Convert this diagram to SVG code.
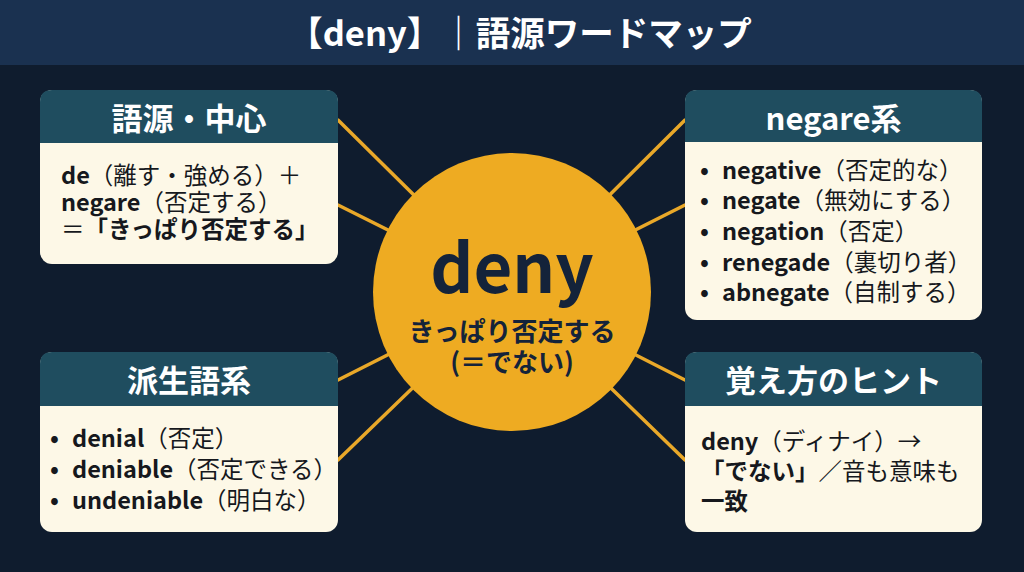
<svg xmlns="http://www.w3.org/2000/svg" width="1024" height="572" viewBox="0 0 1024 572">
<style>
text{font-family:"Noto Sans CJK JP","Noto Sans",sans-serif;}
.hdr{fill:#1f4d5f;}
.body{fill:#fdf8e7;}
.ht{fill:#ffffff;font-size:31px;font-weight:700;text-anchor:middle;}
.bt{fill:#16181d;font-size:23.5px;font-weight:400;}
.b{font-weight:700;}
.bul{fill:#16181d;font-size:23.5px;font-weight:700;}
.link{stroke:#e9a829;stroke-width:3.5;stroke-linecap:round;fill:none;}
</style>
<rect x="0" y="0" width="1024" height="572" fill="#0f1c2e"/>
<rect x="0" y="0" width="1024" height="65" fill="#1a3150"/>
<text x="520" y="46" fill="#ffffff" font-size="34.5" font-weight="700" text-anchor="middle">【deny】｜語源ワードマップ</text>

<g id="connectors">
<line class="link" x1="512" y1="292" x2="338" y2="120"/>
<line class="link" x1="512" y1="292" x2="338" y2="205"/>
<line class="link" x1="512" y1="292" x2="685" y2="120"/>
<line class="link" x1="512" y1="292" x2="685" y2="205"/>
<line class="link" x1="512" y1="292" x2="338" y2="380"/>
<line class="link" x1="512" y1="292" x2="338" y2="460"/>
<line class="link" x1="512" y1="292" x2="685" y2="380"/>
<line class="link" x1="512" y1="292" x2="685" y2="460"/>
</g>

<g id="center">
<circle cx="512" cy="292" r="139" fill="#eeab22"/>
<text x="512" y="293" fill="#14233a" font-size="67" font-weight="700" text-anchor="middle">deny</text>
<text x="512" y="341" fill="#14233a" font-size="26" font-weight="700" text-anchor="middle">きっぱり否定する</text>
<text x="512" y="372" fill="#14233a" font-size="26" font-weight="700" text-anchor="middle">(＝でない)</text>
</g>

<g id="box-origin">
<rect class="body" x="40" y="90" width="298" height="174" rx="12"/>
<path class="hdr" d="M40,143 V102 Q40,90 52,90 H326 Q338,90 338,102 V143 Z"/>
<text class="ht" x="189" y="130">語源・中心</text>
<text class="bt" x="61" y="184"><tspan class="b">de</tspan>（離す・強める）＋</text>
<text class="bt" x="61" y="211"><tspan class="b">negare</tspan>（否定する）</text>
<text class="bt" x="61" y="238">＝<tspan class="b">「きっぱり否定する」</tspan></text>
</g>

<g id="box-negare">
<rect class="body" x="685" y="90" width="297" height="230" rx="12"/>
<path class="hdr" d="M685,142 V102 Q685,90 697,90 H970 Q982,90 982,102 V142 Z"/>
<text class="ht" x="833.5" y="130">negare系</text>
<text class="bul" x="700" y="179">•</text>
<text class="bt" x="722" y="179"><tspan class="b">negative</tspan>（否定的な）</text>
<text class="bul" x="700" y="209">•</text>
<text class="bt" x="722" y="209"><tspan class="b">negate</tspan>（無効にする）</text>
<text class="bul" x="700" y="240">•</text>
<text class="bt" x="722" y="240"><tspan class="b">negation</tspan>（否定）</text>
<text class="bul" x="700" y="271">•</text>
<text class="bt" x="722" y="271"><tspan class="b">renegade</tspan>（裏切り者）</text>
<text class="bul" x="700" y="301">•</text>
<text class="bt" x="722" y="301"><tspan class="b">abnegate</tspan>（自制する）</text>
</g>

<g id="box-derived">
<rect class="body" x="40" y="352" width="298" height="180" rx="12"/>
<path class="hdr" d="M40,406 V364 Q40,352 52,352 H326 Q338,352 338,364 V406 Z"/>
<text class="ht" x="189" y="392">派生語系</text>
<text class="bul" x="50" y="447">•</text>
<text class="bt" x="72" y="447"><tspan class="b">denial</tspan>（否定）</text>
<text class="bul" x="50" y="478">•</text>
<text class="bt" x="72" y="478"><tspan class="b">deniable</tspan>（否定できる）</text>
<text class="bul" x="50" y="509">•</text>
<text class="bt" x="72" y="509"><tspan class="b">undeniable</tspan>（明白な）</text>
</g>

<g id="box-hint">
<rect class="body" x="685" y="352" width="297" height="180" rx="12"/>
<path class="hdr" d="M685,406 V364 Q685,352 697,352 H970 Q982,352 982,364 V406 Z"/>
<text class="ht" x="833.5" y="392">覚え方のヒント</text>
<text class="bt" x="701" y="450"><tspan class="b">deny</tspan>（ディナイ）→</text>
<text class="bt" x="701" y="480"><tspan class="b">「でない」</tspan>／音も意味も</text>
<text class="bt" x="701" y="510"><tspan class="b">一致</tspan></text>
</g>
</svg>
